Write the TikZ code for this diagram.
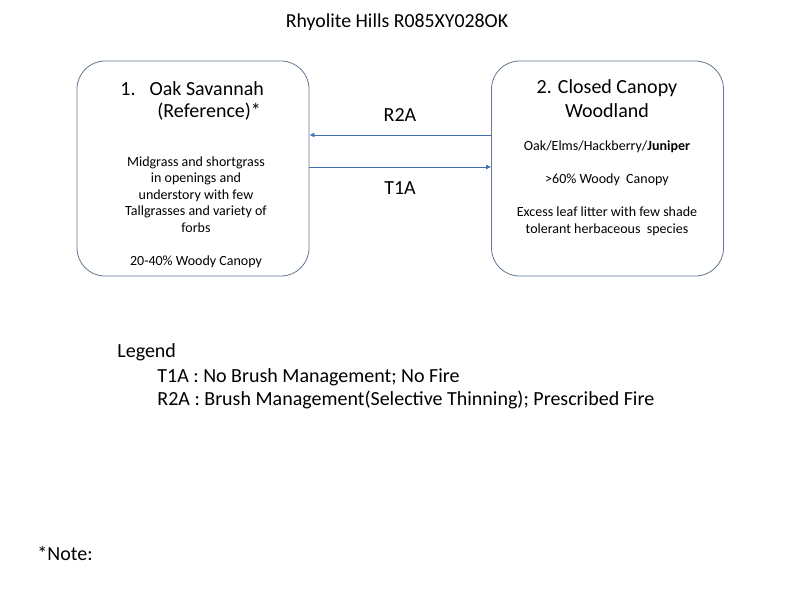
\documentclass[tikz,border=0pt]{standalone}
\usepackage{fontspec}
\setmainfont{Carlito}
\usetikzlibrary{arrows.meta}
\definecolor{edge1}{RGB}{100, 118, 145}
\definecolor{blue1}{RGB}{68, 110, 180}

\begin{document}
\begin{tikzpicture}[x=1pt, y=-1pt, line width =0.8pt]
  \useasboundingbox (0,0) rectangle (800,600);
  \tikzset{state/.style={draw=edge1, rounded corners=28pt, minimum width=232pt, minimum height=215pt},
           big/.style={font=\fontsize{20}{24}\selectfont},
           small/.style={font=\fontsize{14}{16.5}\selectfont, align=center}}

  \node[font=\fontsize{19.8}{24}\selectfont] (title) at (397,22) {Rhyolite Hills R085XY028OK};

  \node[state] (s1) at (193,168.5) {};
  \node[state] (s2) at (607.5,168.5) {};

  \node[big, anchor=west, inner sep=0] (s1a) at (120,89) {1.\hspace{14pt}Oak Savannah};
  \node[big, anchor=west, inner sep=0] (s1b) at (157,112) {(Reference)*};
  \node[small] (s1c) at (196,212) {Midgrass and shortgrass\\in openings and\\understory with few\\Tallgrasses and variety of\\forbs\\ \\20-40\% Woody Canopy};

  \node[big, align=center] (s2a) at (607,99) {2. Closed Canopy\\Woodland};
  \node[small] (s2c) at (607,188) {Oak/Elms/Hackberry/\textbf{Juniper}\\ \\>60\% Woody~ Canopy\\ \\Excess leaf litter with few shade\\tolerant herbaceous~ species};

  \draw[blue1, -{Latex[length=5pt,width=5pt]}] (s2.west |- 0,135) -- (s1.east |- 0,135);
  \draw[blue1, -{Latex[length=5pt,width=5pt]}] (s1.east |- 0,167) -- (s2.west |- 0,167);
  \node[big] (r2a) at (400,115) {R2A};
  \node[big] (t1a) at (400,188) {T1A};

  \node[big, anchor=west, inner sep=0] (leg) at (117,352) {Legend};
  \node[big, anchor=west, inner sep=0] (leg1) at (157,377) {T1A : No Brush Management; No Fire};
  \node[big, anchor=west, inner sep=0] (leg2) at (157,400) {R2A : Brush Management(Selective Thinning); Prescribed Fire};

  \node[big, anchor=west, inner sep=0] (note) at (37,553) {*Note:};
\end{tikzpicture}
\end{document}
